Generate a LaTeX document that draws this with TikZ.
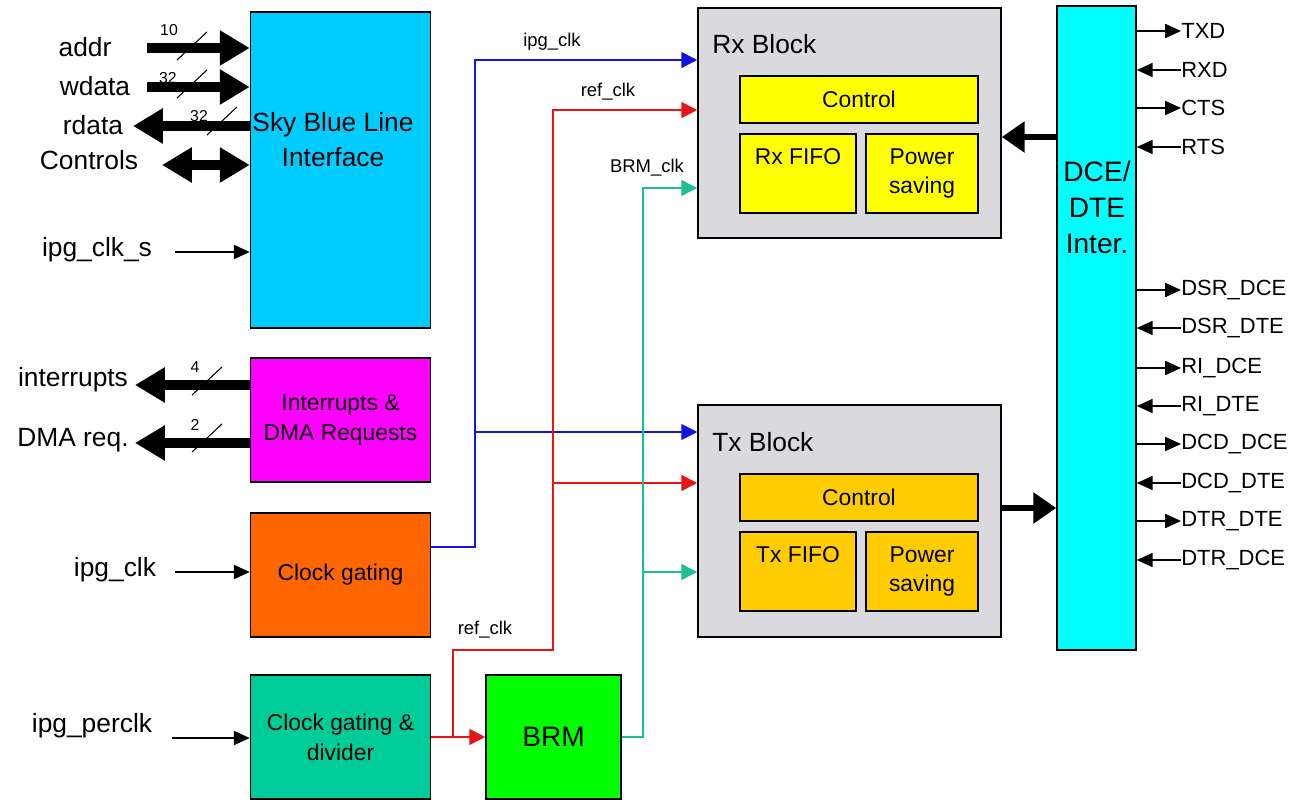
\documentclass[tikz,border=0pt]{standalone}
\usepackage{fontspec}
\setmainfont{Liberation Sans}
\usepackage{xcolor}
\usetikzlibrary{arrows.meta}

\definecolor{skyblue}{RGB}{0,204,255}
\definecolor{irqpink}{RGB}{255,0,255}
\definecolor{gateorange}{RGB}{255,102,0}
\definecolor{divteal}{RGB}{0,204,153}
\definecolor{brmgreen}{RGB}{0,255,0}
\definecolor{blockgray}{RGB}{218,218,222}
\definecolor{rxyellow}{RGB}{255,255,0}
\definecolor{txyellow}{RGB}{255,204,0}
\definecolor{dcecyan}{RGB}{0,255,255}
\definecolor{ipgblue}{RGB}{20,20,220}
\definecolor{refred}{RGB}{230,20,20}
\definecolor{brmclk}{RGB}{30,190,150}

\tikzset{
  block/.style={draw, line width=0.9pt, inner sep=0pt, align=center, font=\fontsize{13}{17}\selectfont},
  title/.style={inner sep=0pt, anchor=west, font=\fontsize{15}{18}\selectfont},
  sig/.style={inner sep=0pt, align=center, font=\fontsize{15}{20}\selectfont},
  pin/.style={inner sep=0pt, anchor=west, font=\fontsize{12.5}{15}\selectfont},
  clklbl/.style={inner sep=0pt, font=\fontsize{10.5}{12}\selectfont},
  busnum/.style={inner sep=0pt, font=\fontsize{9}{10}\selectfont},
  bus/.style={line width=5.5pt, -{Triangle[length=17pt, width=19pt]}},
  wide/.style={line width=3.5pt, -{Triangle[length=13pt, width=17pt]}},
  wire/.style={line width=0.9pt, -{Triangle[length=9pt, width=8pt]}},
  clk/.style={line width=0.9pt, -{Triangle[length=9pt, width=9pt]}},
  tick/.style={line width=0.6pt}
}

\begin{document}
\begin{tikzpicture}[x=0.02cm, y=-0.02cm]
    \useasboundingbox (0,0) rectangle (1297,803);

    % Left column
    \node[block, fill=skyblue,    minimum width=3.6cm, minimum height=6.32cm] (sky)  at (340.5,170) {};
    \node[sig] (skytxt) at (333,140) {Sky Blue Line\\Interface};
    \node[block, fill=irqpink,    minimum width=3.6cm, minimum height=2.48cm] (irq)  at (340.5,420) {Interrupts \&\\DMA Requests};
    \node[block, fill=gateorange, minimum width=3.6cm, minimum height=2.48cm] (gate) at (340.5,575) {Clock gating};
    \node[block, fill=divteal,    minimum width=3.6cm, minimum height=2.48cm] (div)  at (340.5,737) {Clock gating \&\\divider};
    \node[block, fill=brmgreen,   minimum width=2.7cm, minimum height=2.48cm, font=\fontsize{16}{18}\selectfont] (brm) at (553.5,737) {BRM};

    % Rx block
    \node[block, fill=blockgray, minimum width=6.06cm, minimum height=4.6cm]  (rx)     at (849.5,123) {};
    \node[title] (rxtitle) at (712,44) {Rx Block};
    \node[block, fill=rxyellow,  minimum width=4.76cm, minimum height=0.94cm] (rxctl)  at (859,99.5)  {Control};
    \node[block, fill=rxyellow,  minimum width=2.32cm, minimum height=1.58cm] (rxfifo) at (798,173.5) {};
    \node[block, fill=rxyellow,  minimum width=2.24cm, minimum height=1.58cm] (rxpwr)  at (922,173.5) {Power\\saving};
    \node[block, draw=none] (rxfifotxt) at (798,157) {Rx FIFO};

    % Tx block
    \node[block, fill=blockgray, minimum width=6.06cm, minimum height=4.64cm] (tx)     at (849.5,521) {};
    \node[title] (txtitle) at (712,442) {Tx Block};
    \node[block, fill=txyellow,  minimum width=4.76cm, minimum height=0.94cm] (txctl)  at (859,497.5) {Control};
    \node[block, fill=txyellow,  minimum width=2.32cm, minimum height=1.58cm] (txfifo) at (798,571.5) {};
    \node[block, fill=txyellow,  minimum width=2.24cm, minimum height=1.58cm] (txpwr)  at (922,571.5) {Power\\saving};
    \node[block, draw=none] (txfifotxt) at (798,555) {Tx FIFO};

    % DCE/DTE interface
    \node[block, fill=dcecyan, minimum width=1.58cm, minimum height=12.88cm] (dce) at (1096.5,328) {};
    \node[sig, font=\fontsize{16}{20.5}\selectfont] (dcetxt) at (1097,207) {DCE/\\DTE\\Inter.};

    % Bus signals
    \node[sig] (addr)  at (85,47)  {addr};
    \node[sig] (wdata) at (95,86)  {wdata};
    \node[sig] (rdata) at (93,125) {rdata};
    \node[sig] (ctrl)  at (89,160) {Controls};
    \node[sig] (sclk)  at (97,250) {ipg\_clk\_s};
    \coordinate (addrsrc)  at (147,48);
    \coordinate (wdatasrc) at (147,87);
    \coordinate (rdatadst) at (133,126);
    \coordinate (ctrlend)  at (162,165);
    \coordinate (sclksrc)  at (175,252);
    \draw[bus] (addrsrc) -- (sky.west |- addrsrc);
    \draw[bus] (wdatasrc) -- (sky.west |- wdatasrc);
    \draw[bus] (sky.west |- rdatadst) -- (rdatadst);
    \draw[bus, {Triangle[length=17pt, width=19pt]}-{Triangle[length=17pt, width=19pt]}] (ctrlend) -- (sky.west |- ctrlend);
    \draw[wire] (sclksrc) -- (sky.west |- sclksrc);

    % Interrupt and DMA outputs
    \node[sig] (intr) at (73,380) {interrupts};
    \node[sig] (dma)  at (73,440) {DMA req.};
    \coordinate (intrdst) at (135,385);
    \coordinate (dmadst)  at (135,443);
    \draw[bus] (irq.west |- intrdst) -- (intrdst);
    \draw[bus] (irq.west |- dmadst) -- (dmadst);

    % Bus widths
    \foreach \nm/\x/\y/\nx/\ny/\n in {wa/192/46/169/30/10, ww/192/84/168/78/32, wr/222/121/199/116/32, wi/207/381/195/367/4, wd/207/438/195/425/2} {
        \draw[tick] (\x-15,\y+14) -- (\x+15,\y-14);
        \node[busnum] (\nm) at (\nx,\ny) {\n};
    }

    % Clock inputs
    \node[sig] (ipg)    at (115,570) {ipg\_clk};
    \node[sig] (perclk) at (92,726)  {ipg\_perclk};
    \coordinate (ipgsrc)    at (175,572);
    \coordinate (perclksrc) at (172,738);
    \draw[wire] (ipgsrc) -- (gate.west |- ipgsrc);
    \draw[wire] (perclksrc) -- (div.west |- perclksrc);

    % Clock network
    \coordinate (ipgout)   at (475,547);
    \coordinate (ipgtop)   at (475,60);
    \coordinate (ipgtx)    at (475,432);
    \draw[clk, ipgblue] (gate.east |- ipgout) -- (ipgout) -- (ipgtop) -- (rx.west |- ipgtop);
    \draw[clk, ipgblue] (ipgtx) -- (tx.west |- ipgtx);

    \coordinate (refsplit) at (453,737);
    \coordinate (refjog)   at (453,650);
    \coordinate (refbend)  at (553,650);
    \coordinate (reftop)   at (553,110);
    \coordinate (reftx)    at (553,483);
    \draw[clk, refred] (div.east) -- (brm.west);
    \draw[clk, refred] (refsplit) -- (refjog) -- (refbend) -- (reftop) -- (rx.west |- reftop);
    \draw[clk, refred] (reftx) -- (tx.west |- reftx);

    \coordinate (brmout) at (643,737);
    \coordinate (brmtop) at (643,188);
    \coordinate (brmtx)  at (643,572);
    \draw[clk, brmclk] (brm.east) -- (brmout) -- (brmtop) -- (rx.west |- brmtop);
    \draw[clk, brmclk] (brmtx) -- (tx.west |- brmtx);

    \node[clklbl] (ipglbl)  at (552,42)  {ipg\_clk};
    \node[clklbl] (reflbl)  at (608,92)  {ref\_clk};
    \node[clklbl] (brmlbl)  at (647,168) {BRM\_clk};
    \node[clklbl] (reflbl2) at (485,630) {ref\_clk};

    % Rx/Tx data links
    \coordinate (rxlink) at (1030,137);
    \coordinate (txlink) at (1030,508);
    \draw[wide] (dce.west |- rxlink) -- (rx.east |- rxlink);
    \draw[wide] (tx.east |- txlink) -- (dce.west |- txlink);

    % Line pins
    \foreach \nm/\y/\txt in {txd/31/TXD, cts/108/CTS, dsrdce/290/DSR\_DCE, ridce/368/RI\_DCE, dcddce/444/DCD\_DCE, dtrdte/521/DTR\_DTE} {
        \node[pin] (\nm) at (1181,\y) {\txt};
        \draw[wire] (dce.east |- \nm.west) -- (\nm.west);
    }
    \foreach \nm/\y/\txt in {rxd/70/RXD, rts/147/RTS, dsrdte/328/DSR\_DTE, ridte/406/RI\_DTE, dcddte/483/DCD\_DTE, dtrdce/560/DTR\_DCE} {
        \node[pin] (\nm) at (1181,\y) {\txt};
        \draw[wire] (\nm.west) -- (dce.east |- \nm.west);
    }
\end{tikzpicture}
\end{document}
